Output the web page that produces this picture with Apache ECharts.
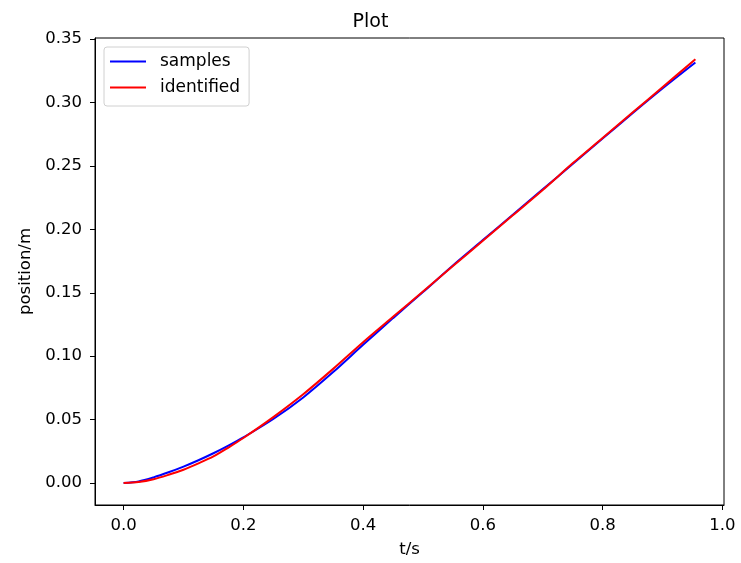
<!DOCTYPE html>
<html>
<head>
<meta charset="utf-8">
<script src="https://cdn.jsdelivr.net/npm/echarts@6/dist/echarts.min.js"></script>
<style>html,body{margin:0;padding:0;background:#fff}#c{width:741px;height:563px}</style>
</head>
<body>
<div id="c"></div>
<script>
var tValues = [0, 0.025, 0.05, 0.075, 0.1, 0.125, 0.15, 0.175, 0.2, 0.25, 0.3, 0.35, 0.4, 0.45, 0.5, 0.55, 0.6, 0.65, 0.7, 0.75, 0.8, 0.85, 0.9, 0.955];
var samples = [0, 0.0013, 0.0045, 0.0085, 0.013, 0.018, 0.0235, 0.0295, 0.036, 0.0505, 0.0675, 0.0875, 0.109, 0.130, 0.1505, 0.1715, 0.1915, 0.2115, 0.2315, 0.2515, 0.2715, 0.2915, 0.311, 0.3315];
var identified = [0, 0.0008, 0.003, 0.0065, 0.0105, 0.0155, 0.021, 0.028, 0.0355, 0.052, 0.070, 0.090, 0.111, 0.131, 0.151, 0.171, 0.191, 0.211, 0.231, 0.252, 0.272, 0.292, 0.312, 0.334];
var xTicks = [0.0, 0.2, 0.4, 0.6, 0.8, 1.0];
var yTicks = [0.00, 0.05, 0.10, 0.15, 0.20, 0.25, 0.30, 0.35];

function pairs(xs, ys) { return xs.map(function (x, i) { return [x, ys[i]]; }); }

var font = 'DejaVu Sans';
var chart = echarts.init(document.getElementById('c'), null, {renderer: 'canvas'});
chart.setOption({
  animation: false,
  backgroundColor: '#fff',
  textStyle: {fontFamily: font},
  title: {
    text: 'Plot', left: 'center', top: 8,
    textStyle: {fontFamily: font, fontSize: 19, fontWeight: 'normal', color: '#000'}
  },
  grid: {left: 95, right: 17, top: 38, bottom: 57, show: true, borderColor: '#000', borderWidth: 1, backgroundColor: 'transparent'},
  legend: {
    orient: 'vertical', left: 104, top: 47,
    padding: [6, 9, 10, 6], itemGap: 9,
    itemWidth: 36, itemHeight: 2,
    icon: 'rect',
    borderColor: '#d0d0d0', borderWidth: 1, borderRadius: 3, backgroundColor: 'rgba(255,255,255,0.8)',
    textStyle: {fontFamily: font, fontSize: 17, color: '#000', padding: [0, 0, 0, 9]},
    data: ['samples', 'identified']
  },
  xAxis: {
    type: 'value', min: -0.0478, max: 1.0028,
    name: 't/s', nameLocation: 'middle', nameGap: 36,
    nameTextStyle: {fontFamily: font, fontSize: 16.5, color: '#000'},
    axisLine: {show: true, onZero: false, lineStyle: {color: '#000', width: 1}},
    axisTick: {show: true, customValues: xTicks, length: 5, lineStyle: {color: '#000'}},
    axisLabel: {customValues: xTicks, fontFamily: font, fontSize: 16.5, color: '#000', margin: 12,
      formatter: function (v) { return v.toFixed(1); }},
    splitLine: {show: false}
  },
  yAxis: {
    type: 'value', min: -0.0173, max: 0.3508,
    name: 'position/m', nameLocation: 'middle', nameGap: 59, nameRotate: 90,
    nameTextStyle: {fontFamily: font, fontSize: 16.5, color: '#000'},
    axisLine: {show: true, onZero: false, lineStyle: {color: '#000', width: 1}},
    axisTick: {show: true, customValues: yTicks, length: 5, lineStyle: {color: '#000'}},
    axisLabel: {customValues: yTicks, fontFamily: font, fontSize: 16.5, color: '#000', margin: 13,
      formatter: function (v) { return v.toFixed(2); }},
    splitLine: {show: false}
  },
  series: [
    {name: 'samples', type: 'line', data: pairs(tValues, samples), smooth: 0.3, symbol: 'none', showSymbol: false,
      lineStyle: {color: '#0000ff', width: 2}, itemStyle: {color: '#0000ff'}},
    {name: 'identified', type: 'line', data: pairs(tValues, identified), smooth: 0.3, symbol: 'none', showSymbol: false,
      lineStyle: {color: '#ff0000', width: 2}, itemStyle: {color: '#ff0000'}}
  ]
});
</script>
</body>
</html>
